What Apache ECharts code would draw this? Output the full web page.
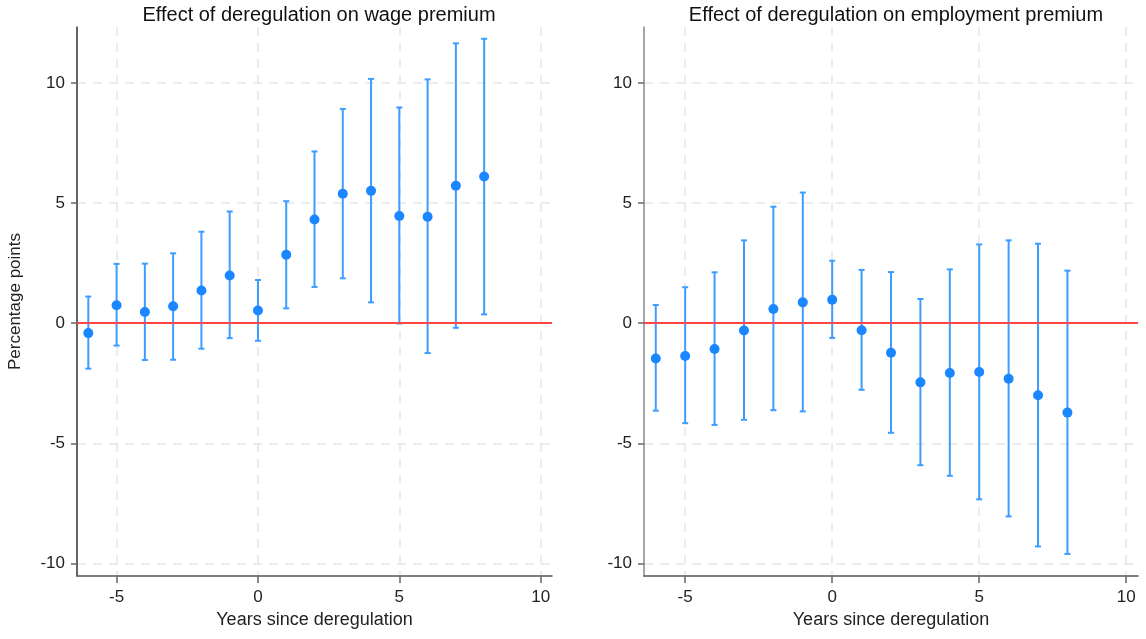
<!DOCTYPE html>
<html>
<head>
<meta charset="utf-8">
<title>Effect of deregulation</title>
<script src="https://cdn.jsdelivr.net/npm/echarts@6.0.0/dist/echarts.min.js"></script>
<style>
  html, body { margin: 0; padding: 0; background: #fff; }
  #chart { width: 1146px; height: 639px; }
</style>
</head>
<body>
<div id="chart"></div>
<script>
// years relative to deregulation
const years = [-6, -5, -4, -3, -2, -1, 0, 1, 2, 3, 4, 5, 6, 7, 8];

// wage premium: point estimate and 95% CI
const wageEst = [-0.41, 0.75, 0.47, 0.71, 1.36, 1.99, 0.53, 2.85, 4.32, 5.39, 5.51, 4.46, 4.43, 5.72, 6.11];
const wageLo  = [-1.89, -0.93, -1.53, -1.52, -1.06, -0.62, -0.73, 0.62, 1.51, 1.87, 0.87, -0.01, -1.24, -0.19, 0.37];
const wageHi  = [1.11, 2.47, 2.48, 2.91, 3.81, 4.65, 1.80, 5.08, 7.15, 8.92, 10.17, 8.98, 10.15, 11.65, 11.84];

// employment premium
const empEst = [-1.47, -1.36, -1.07, -0.30, 0.59, 0.87, 0.98, -0.29, -1.23, -2.46, -2.07, -2.03, -2.31, -3.00, -3.72];
const empLo  = [-3.64, -4.16, -4.23, -4.02, -3.62, -3.67, -0.61, -2.77, -4.56, -5.91, -6.35, -7.33, -8.04, -9.29, -9.60];
const empHi  = [0.76, 1.50, 2.12, 3.45, 4.85, 5.44, 2.60, 2.22, 2.13, 1.01, 2.24, 3.28, 3.45, 3.31, 2.19];

const xTicks = [-5, 0, 5, 10];
const yTicks = [-10, -5, 0, 5, 10];

const titles = ['Effect of deregulation on wage premium', 'Effect of deregulation on employment premium'];

const dotColor = '#1a86ff';
const barColor = '#3d9cff';
const font = 'Liberation Sans, Arial, sans-serif';

function errorBar (params, api) {
    const x = api.value(0);
    const top = api.coord([x, api.value(2)]);
    const bot = api.coord([x, api.value(1)]);
    const half = 3;
    const style = { stroke: barColor, lineWidth: 2 };
    return {
        type: 'group',
        children: [
            { type: 'line', shape: { x1: top[0], y1: top[1], x2: bot[0], y2: bot[1] }, style: style },
            { type: 'line', shape: { x1: top[0] - half, y1: top[1], x2: top[0] + half, y2: top[1] }, style: style },
            { type: 'line', shape: { x1: bot[0] - half, y1: bot[1], x2: bot[0] + half, y2: bot[1] }, style: style }
        ]
    };
}

function xAxisFor (idx) {
    return {
        type: 'value',
        gridIndex: idx,
        min: -6.4,
        max: 10.4,
        name: 'Years since deregulation',
        nameLocation: 'middle',
        nameGap: 35,
        nameTextStyle: { fontFamily: font, fontSize: 18, color: '#222' },
        axisLine: { show: true, onZero: false, lineStyle: { color: '#555', width: 1.5 } },
        axisTick: { show: true, customValues: xTicks, length: 7, lineStyle: { color: '#666', width: 1.5 } },
        axisLabel: { customValues: xTicks, margin: 13, fontFamily: font, fontSize: 17, color: '#222' },
        splitLine: { show: true, lineStyle: { color: '#e6e6e6', type: [9, 7], width: 1.5 } }
    };
}

function yAxisFor (idx) {
    return {
        type: 'value',
        gridIndex: idx,
        min: -10.52,
        max: 12.33,
        name: idx === 0 ? 'Percentage points' : '',
        nameLocation: 'middle',
        nameGap: 53,
        nameTextStyle: { fontFamily: font, fontSize: 17, color: '#222' },
        axisLine: { show: true, onZero: false, lineStyle: { color: idx === 0 ? '#333' : '#888', width: 1.5 } },
        axisTick: { show: true, customValues: yTicks, length: 6, lineStyle: { color: '#666', width: 1.5 } },
        axisLabel: { customValues: yTicks, margin: 12, fontFamily: font, fontSize: 17, color: '#222' },
        splitLine: { show: true, lineStyle: { color: '#e6e6e6', type: [9, 7], width: 1.5 } }
    };
}

function panelSeries (idx, est, lo, hi) {
    return [
        {
            type: 'custom',
            xAxisIndex: idx,
            yAxisIndex: idx,
            renderItem: errorBar,
            data: years.map((y, i) => [y, lo[i], hi[i]]),
            z: 2,
            silent: true
        },
        {
            type: 'scatter',
            xAxisIndex: idx,
            yAxisIndex: idx,
            symbolSize: 10,
            itemStyle: { color: dotColor, opacity: 1 },
            data: years.map((y, i) => [y, est[i]]),
            z: 4,
            markLine: {
                silent: true,
                symbol: 'none',
                label: { show: false },
                lineStyle: { color: '#ff4545', type: 'solid', width: 2 },
                data: [{ yAxis: 0 }],
                z: 3
            }
        }
    ];
}

const chart = echarts.init(document.getElementById('chart'), null, { renderer: 'canvas' });
chart.setOption({
    backgroundColor: '#fff',
    animation: false,
    title: [
        { text: titles[0], left: 314, top: 0, textAlign: 'center', textStyle: { fontFamily: font, fontSize: 20, fontWeight: 'normal', color: '#111' } },
        { text: titles[1], left: 891, top: 0, textAlign: 'center', textStyle: { fontFamily: font, fontSize: 20, fontWeight: 'normal', color: '#111' } }
    ],
    grid: [
        { left: 77, top: 27, width: 475, height: 549 },
        { left: 644, top: 27, width: 494, height: 549 }
    ],
    xAxis: [xAxisFor(0), xAxisFor(1)],
    yAxis: [yAxisFor(0), yAxisFor(1)],
    series: [].concat(
        panelSeries(0, wageEst, wageLo, wageHi),
        panelSeries(1, empEst, empLo, empHi)
    )
});
</script>
</body>
</html>
